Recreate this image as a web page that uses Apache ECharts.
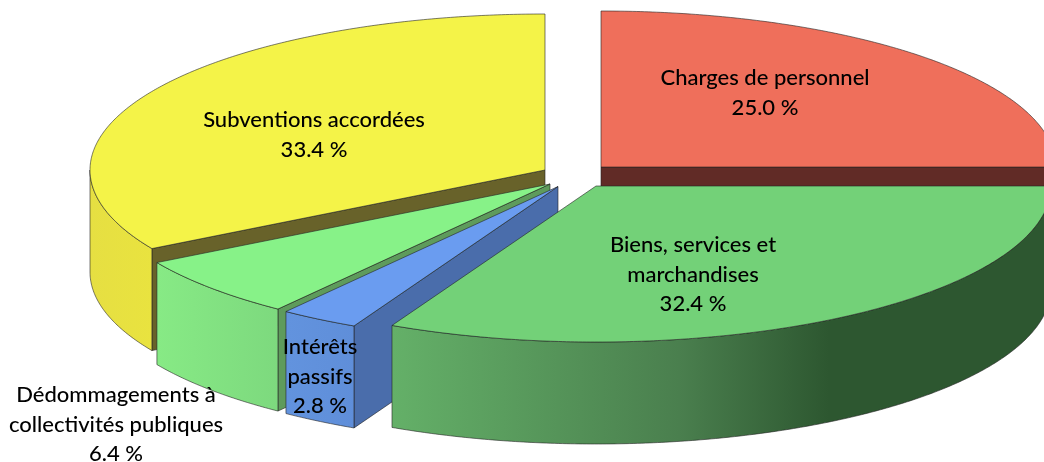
<!DOCTYPE html>
<html>
<head>
<meta charset="utf-8">
<style>html,body{margin:0;padding:0;background:#fff}#c{width:1044px;height:462px}</style>
<script src="https://cdn.jsdelivr.net/npm/echarts@6/dist/echarts.min.js"></script>
</head>
<body>
<div id="c"></div>
<script>
// Data, clockwise from 12 o'clock
const categories = ['Charges de personnel', 'Biens, services et marchandises', 'Intérêts passifs', 'Dédommagements à collectivités publiques', 'Subventions accordées'];
const shares = [25.0, 32.4, 2.8, 6.4, 33.4];
const labelLines = [
  ['Charges de personnel'],
  ['Biens, services et', 'marchandises'],
  ['Intérêts', 'passifs'],
  ['Dédommagements à', 'collectivités publiques'],
  ['Subventions accordées']
];

// Layout and styling
const RX = 455, RY = 156, DEPTH = 102;
const apexes = [[601, 167], [596, 186], [558, 186.5], [550, 184], [545, 170]];
const labelAnchors = [[765, 78], [693, 245], [320, 347], [116, 395], [314, 120]];
const drawRank = [1, 4, 3, 2, 0];
const topColors = ['#ef6f5b', '#73d178', '#6a9cf0', '#87f288', '#f4f348'];
const wallColors = ['#612b26', '#3f7a44', '#4a6dab', '#5e9b5c', '#68622a'];
const rimRanges = [[601, 1044], [393, 1044], [287, 357], [157, 279], [90, 153]];
const rimStops = [
  [[0, '#c05a4a'], [1, '#c05a4a']],
  [[0, '#64b068'], [0.44, '#4a7f4e'], [0.67, '#2d5730'], [1, '#2d5730']],
  [[0, '#6293de'], [1, '#5f8ed9']],
  [[0, '#87ea85'], [1, '#7dd97e']],
  [[0, '#e6df42'], [1, '#e9e33f']]
];
const EDGE = 'rgba(35,35,35,0.75)';
const LINE_H = 29.5;
const FONT = '500 22px Lato, "Noto Sans", sans-serif';

const total = shares.reduce((a, b) => a + b, 0);
const startAngles = [];
shares.reduce((acc, v, i) => { startAngles[i] = acc; return acc + v / total * 360; }, 0);
const rad = d => d * Math.PI / 180;
const pt = (apex, deg, dy) => [apex[0] + RX * Math.sin(rad(deg)), apex[1] - RY * Math.cos(rad(deg)) + (dy || 0)];
function arc(apex, a, b, dy) {
  const out = [], n = Math.max(2, Math.ceil((b - a) * 2));
  for (let i = 0; i <= n; i++) out.push(pt(apex, a + (b - a) * i / n, dy));
  return out;
}

function renderItem(params, api) {
  const i = params.dataIndex;
  const value = api.value(0);
  const a = startAngles[i], b = a + value / total * 360;
  const apex = apexes[i], rank = drawRank[i] * 10;
  const children = [];
  const stroke = { stroke: EDGE, lineWidth: 0.8 };

  // cut walls facing the viewer
  const wall = deg => ({
    type: 'polygon', z2: rank + 1,
    shape: { points: [apex, pt(apex, deg), pt(apex, deg, DEPTH), [apex[0], apex[1] + DEPTH]] },
    style: Object.assign({ fill: wallColors[i] }, stroke)
  });
  if (Math.sin(rad(a)) < -1e-6) children.push(wall(a));
  if (Math.sin(rad(b)) > 1e-6) children.push(wall(b));

  // outer rim on the front half of the ellipse
  const ra = Math.max(a, 90), rb = Math.min(b, 270);
  if (rb > ra) {
    const up = arc(apex, ra, rb, 0), down = arc(apex, ra, rb, DEPTH).reverse();
    children.push({
      type: 'polygon', z2: rank + 2,
      shape: { points: up.concat(down) },
      style: Object.assign({
        fill: new echarts.graphic.LinearGradient(rimRanges[i][0], 0, rimRanges[i][1], 0,
          rimStops[i].map(s => ({ offset: s[0], color: s[1] })), true)
      }, stroke)
    });
  }

  // top face
  children.push({
    type: 'polygon', z2: rank + 3,
    shape: { points: [apex].concat(arc(apex, a, b, 0)) },
    style: Object.assign({ fill: topColors[i] }, stroke)
  });

  // label
  const lines = labelLines[i].concat([value.toFixed(1) + ' %']);
  lines.forEach((t, k) => children.push({
    type: 'text', z2: 100,
    style: {
      text: t, x: labelAnchors[i][0], y: labelAnchors[i][1] + k * LINE_H,
      textAlign: 'center', textVerticalAlign: 'middle', font: FONT, fill: '#000'
    }
  }));
  return { type: 'group', children };
}

const chart = echarts.init(document.getElementById('c'), null, { renderer: 'canvas' });
chart.setOption({
  animation: false,
  backgroundColor: '#fff',
  series: [{
    type: 'custom',
    coordinateSystem: 'none',
    renderItem,
    clip: false,
    encode: { value: 0 },
    data: shares.map((v, i) => ({ name: categories[i], value: [v] }))
  }]
});
</script>
</body>
</html>
